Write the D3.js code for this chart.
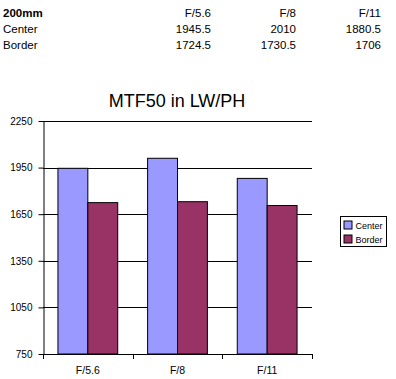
<!DOCTYPE html>
<html>
<head>
<meta charset="utf-8">
<script src="https://cdn.jsdelivr.net/npm/d3@7"></script>
<style>
  html, body { margin: 0; padding: 0; background: #fff; }
  svg { display: block; font-family: Arial, "Liberation Sans", sans-serif; }
</style>
</head>
<body>
<svg id="chart" width="396" height="379"></svg>
<script>
var tableHead = '200mm';
var apertures = ['F/5.6', 'F/8', 'F/11'];
var seriesNames = ['Center', 'Border'];
var centerVals = [1945.5, 2010, 1880.5];
var borderVals = [1724.5, 1730.5, 1706];
var yTicks = [750, 1050, 1350, 1650, 1950, 2250];
var colors = ['#9999ff', '#993366'];

var svg = d3.select('#chart');

// data table at the top
var colX = [211, 296, 381];
var rowY = [16.5, 32.5, 48.5];
var table = svg.append('g').attr('font-size', '11.5px').attr('fill', '#000');
table.append('text').attr('x', 3).attr('y', rowY[0]).attr('font-weight', 'bold').text(tableHead);
apertures.forEach(function(a, i) {
  table.append('text').attr('x', colX[i]).attr('y', rowY[0]).attr('text-anchor', 'end').text(a);
});
[centerVals, borderVals].forEach(function(vals, r) {
  table.append('text').attr('x', 3).attr('y', rowY[r + 1]).text(seriesNames[r]);
  vals.forEach(function(v, i) {
    table.append('text').attr('x', colX[i]).attr('y', rowY[r + 1]).attr('text-anchor', 'end').text(v);
  });
});

// chart
var L = 43, R = 312, T = 121, B = 354;
var x = d3.scaleBand().domain(apertures).range([L, R]).paddingInner(0).paddingOuter(0);
var y = d3.scaleLinear().domain([750, 2250]).range([B, T]);

svg.append('text').attr('x', 177).attr('y', 107).attr('text-anchor', 'middle')
  .attr('font-size', '18px').text('MTF50 in LW/PH');

// gridlines
svg.append('g').selectAll('line').data(yTicks.slice(1)).enter().append('line')
  .attr('x1', L).attr('x2', R)
  .attr('y1', function(d) { return Math.round(y(d)) + 0.5; })
  .attr('y2', function(d) { return Math.round(y(d)) + 0.5; })
  .attr('stroke', '#000').attr('stroke-width', 1);

// bars
var bw = x.bandwidth() / 3;
var groups = svg.append('g').selectAll('g').data(apertures).enter().append('g');
groups.each(function(a, i) {
  var g = d3.select(this);
  [centerVals[i], borderVals[i]].forEach(function(v, s) {
    var x0 = x(a) + bw / 2 + s * bw;
    g.append('rect')
      .attr('x', x0).attr('y', y(v))
      .attr('width', bw).attr('height', B - y(v))
      .attr('fill', colors[s]).attr('stroke', '#000').attr('stroke-width', 1);
  });
});

// y axis
var yAxis = d3.axisLeft(y).tickValues(yTicks).tickFormat(d3.format('d'))
  .tickSize(5).tickSizeOuter(0).tickPadding(6);
var ya = svg.append('g').attr('transform', 'translate(' + (L + 0.5) + ',0)').call(yAxis);
ya.select('.domain').attr('stroke', '#000');
ya.selectAll('text').attr('font-size', '10px').attr('fill', '#000')
  .attr('font-family', 'Arial, "Liberation Sans", sans-serif');

// x axis: ticks between categories
var xa = svg.append('g');
xa.append('line').attr('x1', L).attr('x2', R).attr('y1', B + 0.5).attr('y2', B + 0.5).attr('stroke', '#000');
var edges = apertures.map(function(a) { return x(a); }).concat([R]);
xa.selectAll('line.tk').data(edges).enter().append('line').attr('class', 'tk')
  .attr('x1', function(d) { return Math.round(d) + 0.5; })
  .attr('x2', function(d) { return Math.round(d) + 0.5; })
  .attr('y1', B).attr('y2', B + 5).attr('stroke', '#000');
xa.selectAll('text').data(apertures).enter().append('text')
  .attr('x', function(d) { return x(d) + x.bandwidth() / 2; })
  .attr('y', 373.5).attr('text-anchor', 'middle').attr('font-size', '10.5px').text(function(d) { return d; });

// legend
var lg = svg.append('g').attr('transform', 'translate(340.5,216.5)');
lg.append('rect').attr('width', 46).attr('height', 30).attr('fill', '#fff').attr('stroke', '#000');
seriesNames.forEach(function(n, i) {
  lg.append('rect').attr('x', 3.5).attr('y', 4.5 + i * 14).attr('width', 8).attr('height', 8)
    .attr('fill', colors[i]).attr('stroke', '#000');
  lg.append('text').attr('x', 15).attr('y', 12 + i * 14).attr('font-size', '9px').text(n);
});
</script>
</body>
</html>
